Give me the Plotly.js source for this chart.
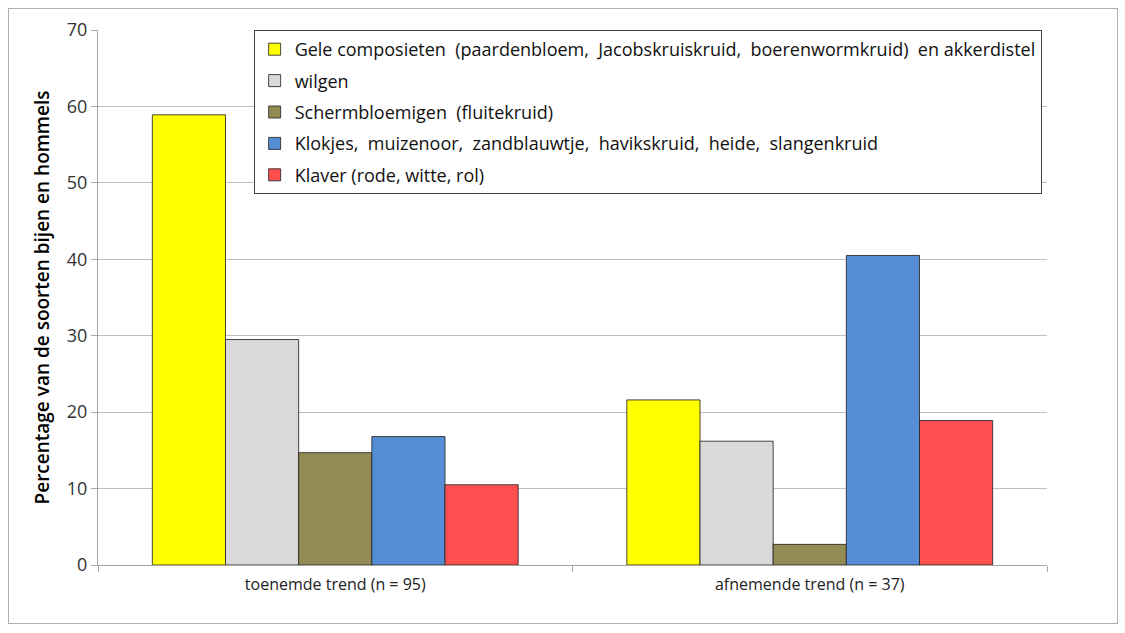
<!DOCTYPE html>
<html>
<head>
<meta charset="utf-8">
<script src="https://cdn.plot.ly/plotly-3.0.1.min.js"></script>
<style>
html,body{margin:0;padding:0;background:#fff;}
#wrap{position:relative;width:1125px;height:633px;}
#chart{width:1125px;height:633px;}
#frame{position:absolute;left:8px;top:8px;width:1108px;height:614px;border:1px solid #b0b0b0;pointer-events:none;}
</style>
</head>
<body>
<div id="wrap"><div id="chart"></div><div id="frame"></div></div>
<script>
const categories = ['toenemde trend (n = 95)', 'afnemende trend (n = 37)'];
const seriesNames = [
  'Gele composieten  (paardenbloem,  Jacobskruiskruid,  boerenwormkruid)  en akkerdistel',
  'wilgen',
  'Schermbloemigen  (fluitekruid)',
  'Klokjes,  muizenoor,  zandblauwtje,  havikskruid,  heide,  slangenkruid',
  'Klaver (rode, witte, rol)'
];
const geleComposieten = [58.9, 21.6];
const wilgen = [29.5, 16.2];
const schermbloemigen = [14.7, 2.7];
const klokjes = [16.8, 40.5];
const klaver = [10.5, 18.9];
const seriesValues = [geleComposieten, wilgen, schermbloemigen, klokjes, klaver];
const colors = ['#FFFF00', '#D9D9D9', '#948A54', '#558ED5', '#FF4F4F'];
const yTicks = [0, 10, 20, 30, 40, 50, 60, 70];

const font = '"Open Sans", sans-serif';

const traces = seriesNames.map((name, i) => ({
  type: 'bar',
  name: name,
  x: categories,
  y: seriesValues[i],
  legendgroup: 'g' + i,
  marker: {color: colors[i], line: {color: 'rgba(40,40,40,0.85)', width: 1}},
  hoverinfo: 'y'
}));

const layout = {
  width: 1125, height: 633,
  margin: {l: 98, r: 78, t: 30, b: 68},
  paper_bgcolor: '#fff', plot_bgcolor: '#fff',
  font: {family: font, size: 16, color: '#222'},
  barmode: 'group',
  bargap: 0.229,
  bargroupgap: 0,
  showlegend: true,
  legend: {
    x: 0.164, y: 1, xanchor: 'left', yanchor: 'top',
    bordercolor: '#444', borderwidth: 1, bgcolor: '#fff',
    font: {family: font, size: 18, color: '#111'},
    traceorder: 'grouped', tracegroupgap: 5,
    itemwidth: 30
  },
  xaxis: {
    type: 'category',
    showline: true, linecolor: '#a6a6a6', linewidth: 1,
    ticks: 'outside', tickson: 'boundaries', ticklen: 6, tickcolor: '#a6a6a6',
    ticklabelstandoff: 5,
    showgrid: false,
    tickfont: {family: font, size: 16, color: '#222'}
  },
  yaxis: {
    range: [0, 70],
    tickvals: yTicks,
    ticktext: yTicks.map(String),
    showline: true, linecolor: '#a6a6a6', linewidth: 1,
    ticks: 'outside', ticklen: 6, tickcolor: '#a6a6a6',
    showgrid: true, gridcolor: '#bfbfbf', gridwidth: 1,
    zeroline: false,
    tickfont: {family: font, size: 18, color: '#333'},
    title: {text: 'Percentage van de soorten bijen en hommels', font: {family: font, size: 19, color: '#000', weight: 600}, standoff: 12}
  }
};

Plotly.newPlot('chart', traces, layout, {displayModeBar: false, staticPlot: true});
</script>
</body>
</html>
